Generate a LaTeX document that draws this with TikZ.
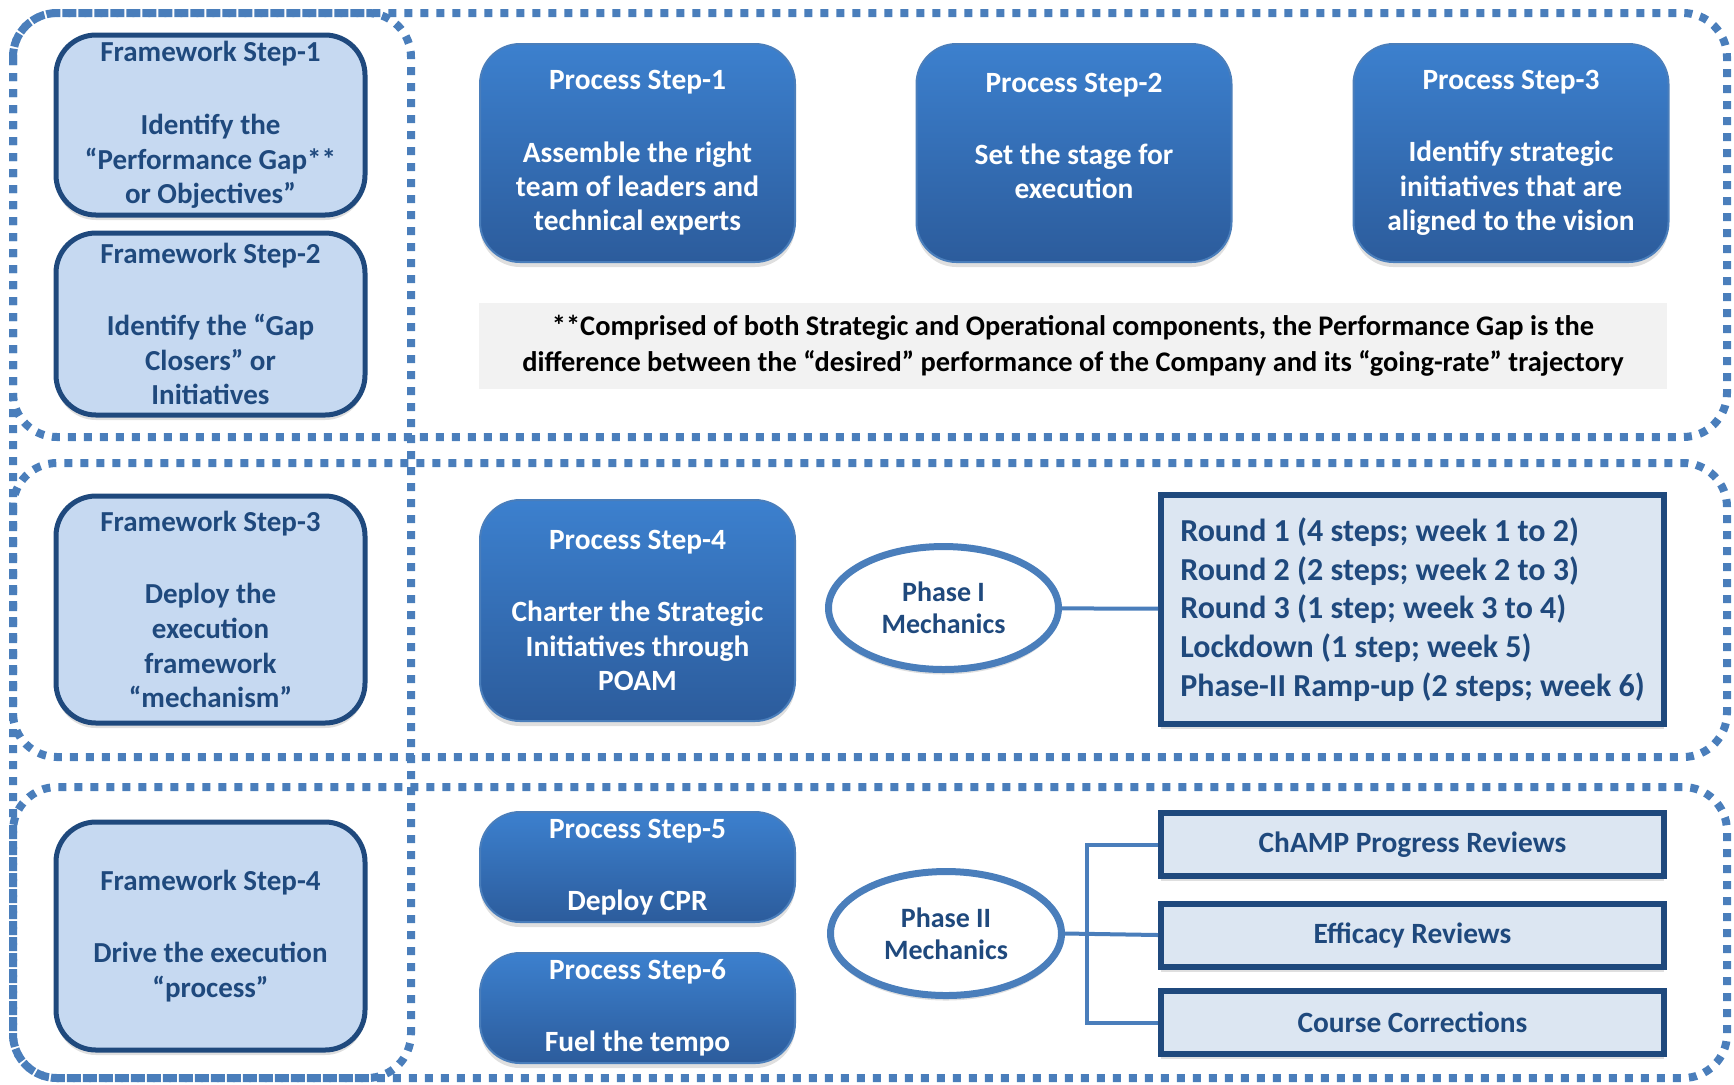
\documentclass[tikz,border=0pt]{standalone}
\usepackage{fontspec}
\setmainfont{Carlito}
\usetikzlibrary{shapes.geometric,shadows}

\definecolor{navy}{RGB}{31,73,125}
\definecolor{midblue}{RGB}{74,126,187}
\definecolor{paleblue}{RGB}{198,217,241}
\definecolor{boxblue}{RGB}{220,230,242}
\definecolor{topblue}{RGB}{60,128,206}
\definecolor{botblue}{RGB}{44,92,156}
\definecolor{notegray}{RGB}{242,242,242}

\begin{document}
\begin{tikzpicture}[x=0.5pt, y=-0.5pt,
    frame/.style={draw=midblue, line width=4pt, dash pattern=on 4pt off 4pt, rounded corners=22pt},
    soft/.style={drop shadow={shadow xshift=0pt, shadow yshift=-2.5pt, opacity=0.25}},
    fwbox/.style={soft, draw=navy, line width=2.5pt, fill=paleblue, rounded corners=20pt,
        text=navy, align=center, inner sep=0pt, minimum width=154.5pt,
        font=\bfseries\fontsize{14.5}{17.3}\selectfont},
    psbox/.style={soft, draw=midblue, line width=1pt, top color=topblue, bottom color=botblue,
        rounded corners=20pt, text=white, align=center, inner sep=0pt,
        minimum width=157.5pt, font=\bfseries\fontsize{14.7}{17.2}\selectfont},
    listbox/.style={soft, draw=navy, line width=3pt, fill=boxblue, text=navy, inner sep=0pt,
        minimum width=251.5pt, font=\bfseries\fontsize{14.7}{19.3}\selectfont},
    phase/.style={soft, ellipse, draw=midblue, line width=3.5pt, fill=white, text=navy,
        align=center, inner sep=0pt, minimum width=115pt, minimum height=61.5pt,
        font=\bfseries\fontsize{14}{16}\selectfont},
    link/.style={draw=midblue, line width=2pt}]

    \useasboundingbox (0,0) rectangle (1734,1084);

    \draw [frame] (13,13) rectangle (1727,437);
    \draw [frame] (13,463) rectangle (1727,757);
    \draw [frame] (13,787) rectangle (1727,1078);
    \draw [frame] (13,13) rectangle (411,1078);

    \node [fwbox, minimum height=90pt] (fw1) at (210.5,125)
        {Framework Step-1\\[19pt]Identify the\\“Performance Gap**\\or Objectives”};
    \node [fwbox, minimum height=91pt] (fw2) at (210.5,324)
        {Framework Step-2\\[19pt]Identify the “Gap\\Closers” or\\Initiatives};
    \node [fwbox, minimum height=113.5pt] (fw3) at (210.5,609.5)
        {Framework Step-3\\[19pt]Deploy the\\execution\\framework\\“mechanism”};
    \node [fwbox, minimum height=114pt] (fw4) at (210.5,936)
        {Framework Step-4\\[19pt]Drive the execution\\“process”};

    \node [psbox, minimum height=109pt] (ps1) at (637.5,153)
        {Process Step-1\\[19pt]Assemble the right\\team of leaders and\\technical experts};
    \node [psbox, minimum height=109pt] (ps2) at (1074,153)
        {Process Step-2\\[19pt]Set the stage for\\execution\\\mbox{}};
    \node [psbox, minimum height=109pt] (ps3) at (1511,153)
        {Process Step-3\\[19pt]Identify strategic\\initiatives that are\\aligned to the vision};

    \node [fill=notegray, minimum width=594pt, minimum height=43pt, inner sep=0pt, align=center,
        font=\bfseries\fontsize{14.2}{18}\selectfont] (note) at (1073,346)
        {**Comprised of both Strategic and Operational components, the Performance Gap is the\\
         difference between the “desired” performance of the Company and its “going-rate” trajectory};

    \node [psbox, minimum height=110.5pt] (ps4) at (637.5,610.5)
        {Process Step-4\\[19pt]Charter the Strategic\\Initiatives through\\POAM};
    \node [phase] (ph1) at (943.5,608) {Phase I\\Mechanics};
    \node [listbox, minimum height=114.5pt, align=left, font=\bfseries\fontsize{16}{19.3}\selectfont]
        (rounds) at (1412.5,609.5)
        {Round 1 (4 steps; week 1 to 2)\\Round 2 (2 steps; week 2 to 3)\\Round 3 (1 step; week 3 to 4)\\
         Lockdown (1 step; week 5)\\Phase-II Ramp-up (2 steps; week 6)};
    \draw [link] (ph1) -- (rounds);

    \node [psbox, minimum height=55pt] (ps5) at (637.5,867) {Process Step-5\\[19pt]Deploy CPR};
    \node [psbox, minimum height=55pt] (ps6) at (637.5,1008) {Process Step-6\\[19pt]Fuel the tempo};
    \node [phase, minimum width=115.5pt, minimum height=62pt] (ph2) at (946,933.5) {Phase II\\Mechanics};
    \node [listbox, minimum height=31.5pt] (champ) at (1412.5,844.5) {ChAMP Progress Reviews};
    \node [listbox, minimum height=31.5pt] (eff) at (1412.5,935) {Efficacy Reviews};
    \node [listbox, minimum height=31.5pt] (course) at (1412.5,1022.5) {Course Corrections};

    \coordinate (bus) at (1087,933.5);
    \draw [link] (ph2.east) -- (eff.west);
    \draw [link] (champ.west) -- (champ.west -| bus) -- (course.west -| bus) -- (course.west);

\end{tikzpicture}
\end{document}
